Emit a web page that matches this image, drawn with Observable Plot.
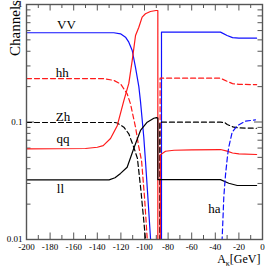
<!DOCTYPE html>
<html>
<head>
<meta charset="utf-8">
<script src="https://cdn.jsdelivr.net/npm/d3@7"></script>
<script src="https://cdn.jsdelivr.net/npm/@observablehq/plot@0.6"></script>
<style>
  html, body { margin: 0; padding: 0; background: white; }
  svg { display: block; }
</style>
</head>
<body>
<div id="chart"></div>
<script>
// ---- data (x = A_kappa in GeV, y = channel fraction) ----
const vvX = [-200, -140, -126, -120.3, -116.1, -113.3, -110.4, -107.6, -104.8, -103.4, -100.6, -99.2, -97.5, -94.9, -93, -85.6, -85.6, -35.6, -30, -25.4, -20, -5];
const vvY = [0.575, 0.575, 0.575, 0.563, 0.527, 0.478, 0.406, 0.29, 0.2, 0.15, 0.0742, 0.047, 0.026, 0.0102, 0.005, 0.005, 0.582, 0.582, 0.545, 0.522, 0.517, 0.517];

const hhX = [-200, -135, -126, -120.3, -114.7, -111.9, -107.6, -104.8, -102.5, -100, -97.7, -96, -86.8, -86.8, -35.6, -30, -25.4, -20, -5];
const hhY = [0.234, 0.234, 0.226, 0.211, 0.174, 0.143, 0.0903, 0.061, 0.047, 0.023, 0.0102, 0.005, 0.005, 0.236, 0.236, 0.222, 0.212, 0.209, 0.208];

const zhX = [-200, -125, -123.1, -117.5, -113.3, -109.1, -106, -103, -99.2, -97, -87, -87, -35.6, -32, -29.9, -24.3, -20, -5];
const zhY = [0.099, 0.099, 0.098, 0.0903, 0.0794, 0.061, 0.049, 0.026, 0.0102, 0.005, 0.005, 0.0996, 0.0996, 0.099, 0.0952, 0.0903, 0.089, 0.0885];

const qqX = [-200, -150, -140, -135, -128.8, -123.1, -117.5, -113.3, -110.4, -107.6, -104.8, -102, -99.2, -95, -90.3, -88.7, -88.7, -86.6, -86.6, -82.2, -75, -60, -35.6, -30, -25.4, -20, -5];
const qqY = [0.059, 0.0595, 0.061, 0.063, 0.0724, 0.093, 0.152, 0.213, 0.334, 0.545, 0.641, 0.78, 0.834, 0.872, 0.889, 0.889, 0.005, 0.005, 0.0525, 0.0564, 0.0575, 0.058, 0.0583, 0.0565, 0.0545, 0.0535, 0.0529];

const llX = [-200, -130, -125, -120.3, -114.7, -109.1, -103.4, -97.7, -92.1, -89.8, -88.7, -88.7, -80, -35.6, -28.6, -21.4, -5];
const llY = [0.0322, 0.0322, 0.0335, 0.0365, 0.0412, 0.0595, 0.0847, 0.0996, 0.1077, 0.109, 0.108, 0.0323, 0.0323, 0.0323, 0.0301, 0.0288, 0.0288];

const haX = [-35.5, -34.2, -33.4, -32.8, -31.4, -29.6, -28.6, -25.7, -21.4, -14.4, -5.9];
const haY = [0.007, 0.0102, 0.016, 0.0229, 0.035, 0.052, 0.061, 0.082, 0.093, 0.1016, 0.1044];

// curve labels (text + anchor in data coordinates)
const labelText = ["VV", "hh", "Zh", "qq", "ll", "ha"];
const labelX = [-166.1, -169.7, -169.1, -169.1, -171.2, -40.7];
const labelY = [0.674, 0.261, 0.110, 0.0717, 0.0269, 0.0182];

// tick values
const xLabelTicks = [-200, -180, -160, -140, -120, -100, -80, -60, -40, -20, 0];
const xMinorTicks = [-190, -170, -150, -130, -110, -90, -70, -50, -30, -10];
const yMajorTicks = [0.01, 0.1, 1];
const yTickLabels = ["0.01", "0.1", "1"];
const yMinorTicks = [0.02, 0.03, 0.04, 0.05, 0.06, 0.07, 0.08, 0.09, 0.2, 0.3, 0.4, 0.5, 0.6, 0.7, 0.8, 0.9];

const yTitle = "Channels";
const xTitle = "Aκ[GeV]";

// ---- build tables ----
const toRows = (xs, ys) => xs.map((x, i) => ({x, y: ys[i]}));
const series = [
  {rows: toRows(vvX, vvY), stroke: "#1010ff", dash: null},
  {rows: toRows(hhX, hhY), stroke: "#ff1a1a", dash: "5,3"},
  {rows: toRows(zhX, zhY), stroke: "#000000", dash: "5,3"},
  {rows: toRows(qqX, qqY), stroke: "#ff1a1a", dash: null},
  {rows: toRows(llX, llY), stroke: "#000000", dash: null},
  {rows: toRows(haX, haY), stroke: "#1010ff", dash: "5,3"}
];
const labels = labelText.map((t, i) => ({t, x: labelX[i], y: labelY[i]}));
const yLabelMap = new Map(yMajorTicks.map((v, i) => [v, yTickLabels[i]]));

const W = 265, H = 267, mL = 26, mR = 3, mT = 4, mB = 28;
const fw = W - mL - mR, fh = H - mT - mB;
const axisColor = "#555";

const svg = Plot.plot({
  width: W, height: H,
  marginLeft: mL, marginRight: mR, marginTop: mT, marginBottom: mB,
  style: {fontFamily: "'Liberation Serif', 'Times New Roman', serif", background: "white", color: "black"},
  x: {domain: [-200, 0]},
  y: {type: "log", domain: [0.01, 1]},
  marks: [
    // inward ticks on all four sides
    Plot.ruleX(xLabelTicks, {x: d => d, insetTop: fh - 6.5, stroke: axisColor}),
    Plot.ruleX(xLabelTicks, {x: d => d, insetBottom: fh - 6.5, stroke: axisColor}),
    Plot.ruleX(xMinorTicks, {x: d => d, insetTop: fh - 4, stroke: axisColor}),
    Plot.ruleX(xMinorTicks, {x: d => d, insetBottom: fh - 4, stroke: axisColor}),
    Plot.ruleY(yMajorTicks, {y: d => d, insetRight: fw - 8, stroke: axisColor}),
    Plot.ruleY(yMajorTicks, {y: d => d, insetLeft: fw - 8, stroke: axisColor}),
    Plot.ruleY(yMinorTicks, {y: d => d, insetRight: fw - 4.5, stroke: axisColor}),
    Plot.ruleY(yMinorTicks, {y: d => d, insetLeft: fw - 4.5, stroke: axisColor}),
    // tick labels
    Plot.axisX({ticks: xLabelTicks, tickSize: 0, tickPadding: 4.5, fontSize: 9, tickFormat: d => `${d}`, label: null}),
    Plot.axisY({ticks: yMajorTicks, tickSize: 0, tickPadding: 4, fontSize: 9, tickFormat: d => yLabelMap.get(d), label: null}),
    // curves
    ...series.map(s => Plot.line(s.rows, {x: "x", y: "y", stroke: s.stroke, strokeWidth: 1.2, strokeDasharray: s.dash, clip: true})),
    // curve labels
    Plot.text(labels, {x: "x", y: "y", text: "t", fontSize: 13, textAnchor: "middle", lineAnchor: "middle"}),
    // frame
    Plot.frame({stroke: axisColor, strokeWidth: 1.4}),
    // axis titles
    Plot.text([yTitle], {frameAnchor: "top-left", rotate: -90, dx: -17, dy: 23.5, fontSize: 15, textAnchor: "middle"}),
    Plot.text([xTitle], {frameAnchor: "bottom-right", dx: -2, dy: 20, fontSize: 12, textAnchor: "end", lineAnchor: "middle"})
  ]
});

// subscript kappa in the x title
d3.select(svg).selectAll("text").filter(function () { return this.textContent === xTitle; })
  .each(function () {
    const t = d3.select(this);
    t.text(null);
    t.append("tspan").text("A");
    t.append("tspan").attr("dy", 3).attr("font-size", 8).text("κ");
    t.append("tspan").attr("dy", -3).text("[GeV]");
  });

document.getElementById("chart").appendChild(svg);
</script>
</body>
</html>
